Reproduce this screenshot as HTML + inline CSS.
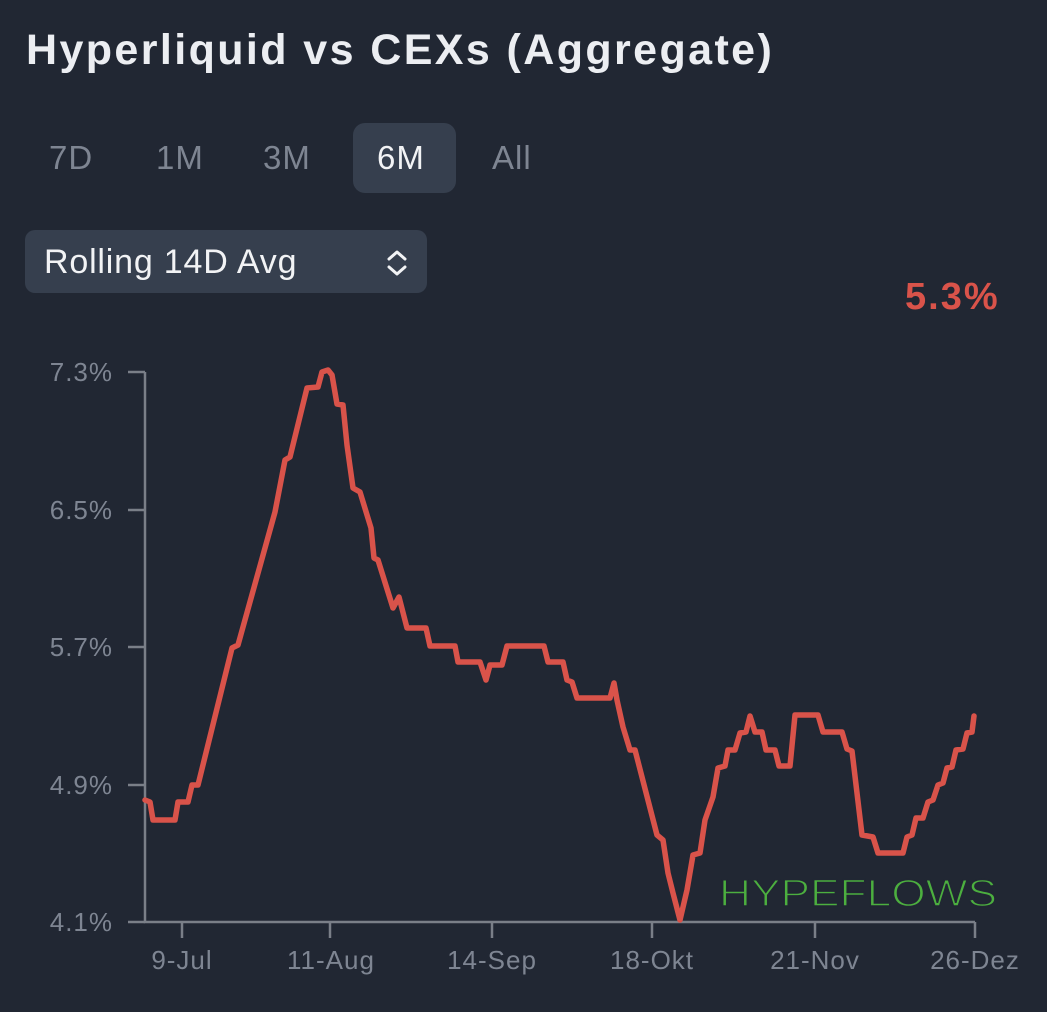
<!DOCTYPE html>
<html><head><meta charset="utf-8"><style>
body{margin:0;width:1047px;height:1012px;background:#212733;overflow:hidden;font-family:"Liberation Sans",sans-serif;position:relative}
.t{position:absolute;white-space:nowrap}
</style></head><body>
<div class="t" style="left:26px;top:26px;font-size:43px;font-weight:bold;color:#eceef2;letter-spacing:2.4px">Hyperliquid vs CEXs (Aggregate)</div>
<div style="position:absolute;left:353px;top:123px;width:103px;height:70px;border-radius:12px;background:#363f4e"></div>
<div class="t" style="left:49px;top:139px;font-size:33px;color:#7e8592;letter-spacing:1px">7D</div>
<div class="t" style="left:156px;top:139px;font-size:33px;color:#7e8592;letter-spacing:1px">1M</div>
<div class="t" style="left:263px;top:139px;font-size:33px;color:#7e8592;letter-spacing:1px">3M</div>
<div class="t" style="left:377px;top:139px;font-size:33px;color:#f2f3f5;letter-spacing:1px">6M</div>
<div class="t" style="left:492px;top:139px;font-size:33px;color:#7e8592;letter-spacing:1px">All</div>
<div style="position:absolute;left:25px;top:230px;width:402px;height:63px;border-radius:10px;background:#363f4e"></div>
<div class="t" style="left:44px;top:243px;font-size:34px;color:#f2f3f5;letter-spacing:0.8px">Rolling 14D Avg</div>
<svg style="position:absolute;left:384px;top:248px" width="26" height="30"><path d="M5 11 L13 4 L21 11 M5 19 L13 26 L21 19" fill="none" stroke="#f2f3f5" stroke-width="3" stroke-linecap="round" stroke-linejoin="round"/></svg>
<div class="t" style="left:905px;top:276px;font-size:38px;font-weight:bold;color:#d9534a;letter-spacing:2px">5.3%</div>
<svg style="position:absolute;left:0;top:0" width="1047" height="1012">
<g stroke="#7a7f88" stroke-width="2.5" fill="none">
<path d="M145 372 V922 H975"/>
<path d="M128 372H145M128 510H145M128 647H145M128 785H145M128 922H145"/>
<path d="M182 922V938M330 922V938M492 922V938M652 922V938M815 922V938M975 922V938"/>
</g>
<g font-size="26" fill="#7e8592" font-family="Liberation Sans,sans-serif" letter-spacing="1">
<text x="113" y="381" text-anchor="end">7.3%</text>
<text x="113" y="519" text-anchor="end">6.5%</text>
<text x="113" y="656" text-anchor="end">5.7%</text>
<text x="113" y="794" text-anchor="end">4.9%</text>
<text x="113" y="931" text-anchor="end">4.1%</text>
<g text-anchor="middle"><text x="182" y="969">9-Jul</text><text x="331" y="969">11-Aug</text><text x="492" y="969">14-Sep</text><text x="652" y="969">18-Okt</text><text x="815" y="969">21-Nov</text><text x="975" y="969">26-Dez</text></g>
</g>
<text x="719" y="906" font-size="38" fill="#4caf3f" font-family="Liberation Sans,sans-serif" textLength="278" lengthAdjust="spacingAndGlyphs" stroke="#212733" stroke-width="1.4">HYPEFLOWS</text>
<polyline fill="none" stroke="#d9534a" stroke-width="5.5" stroke-linejoin="round" stroke-linecap="round" points="145,800 150,802 153,820 175,820 178,802 188,802 192,785 198,785 232,648 238,645 275,512 285,460 290,457 307,388 318,387 322,372 328,370 332,375 337,404 343,405 347,445 353,488 360,492 371,528 374,558 378,560 393,608 399,597 407,628 426,628 430,646 455,646 458,662 480,662 486,680 490,665 502,665 507,646 544,646 548,662 563,662 567,680 572,682 577,698 610,698 614,683 617,700 623,727 630,750 635,750 657,835 663,840 668,873 673,893 680,920 687,890 693,855 700,853 705,820 713,797 718,768 725,766 728,750 735,750 740,733 746,732 750,716 755,732 762,732 766,750 775,750 779,766 790,766 795,715 818,715 823,732 842,732 847,749 852,751 862,835 873,837 878,853 903,853 907,837 912,835 916,818 923,818 928,802 933,800 938,785 943,783 947,768 952,767 956,750 963,749 967,733 972,732 974,716"/>
</svg>
</body></html>
